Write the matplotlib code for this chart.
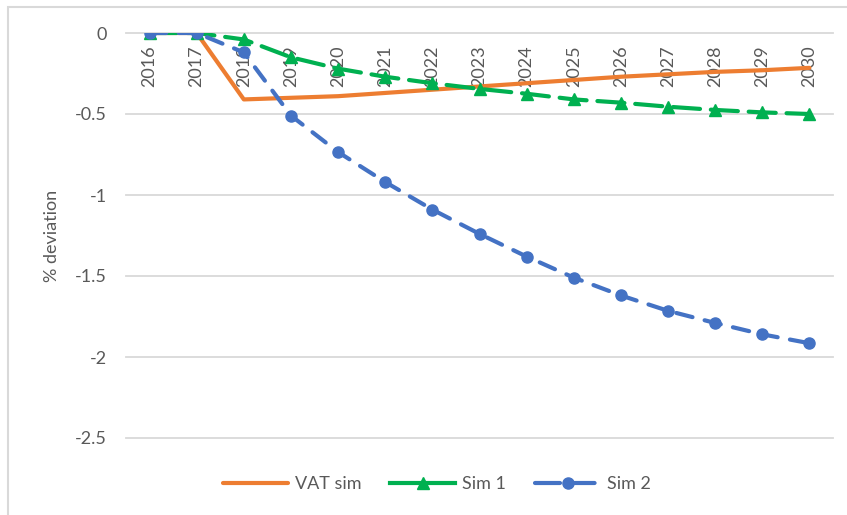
import matplotlib.pyplot as plt
from matplotlib.lines import Line2D
from matplotlib.patches import Rectangle

# data
years = [str(y) for y in range(2016, 2031)]
vat_sim = [0, 0, -0.41, -0.40, -0.39, -0.37, -0.35, -0.33, -0.31, -0.29, -0.27, -0.255, -0.24, -0.23, -0.215]
sim1 = [0, 0, -0.04, -0.15, -0.22, -0.27, -0.31, -0.345, -0.375, -0.41, -0.43, -0.455, -0.475, -0.49, -0.50]
sim2 = [0, 0, -0.12, -0.51, -0.735, -0.92, -1.09, -1.24, -1.38, -1.51, -1.62, -1.715, -1.79, -1.86, -1.915]
yticks = [0, -0.5, -1, -1.5, -2, -2.5]

plt.rcParams['font.family'] = ['Lato', 'DejaVu Sans']
txt = '#595959'
c_orange, c_green, c_blue = '#ED7D31', '#00B050', '#4472C4'
lw = 3.0
green_dash = (0, (6.5, 2.6))
blue_dash = (0, (4, 3))

fig = plt.figure(figsize=(8.47, 5.15), dpi=100)
ax = fig.add_axes([126/847, 1 - 438/515, 707/847, 405/515])

# chart frame (only top/left edges visible in the crop)
fig.patches.append(Rectangle((8/847, -0.1), 1.2, 1.1 - 7/515, transform=fig.transFigure,
                             fill=False, edgecolor='#D9D9D9', linewidth=1.5))

for v in yticks:
    ax.axhline(v, color='#D9D9D9', linewidth=1.3, clip_on=False, zorder=0)

x = list(range(len(years)))
ax.plot(x, vat_sim, color=c_orange, linewidth=lw, solid_capstyle='round', zorder=3)
ax.plot(x, sim1, color=c_green, linewidth=lw, linestyle=green_dash, dash_capstyle='round',
        marker='^', markersize=8.5, zorder=4)
ax.plot(x, sim2, color=c_blue, linewidth=lw, linestyle=blue_dash, dash_capstyle='round',
        marker='o', markersize=8, zorder=5)

ax.set_xlim(-0.5, len(years) - 0.5)
ax.set_ylim(-2.5, 0)
ax.set_xticks([])
ax.set_yticks(yticks)
ax.set_yticklabels(['0', '-0.5', '-1', '-1.5', '-2', '-2.5'])
ax.tick_params(axis='y', length=0, pad=14, labelsize=13, labelcolor=txt)
for s in ax.spines.values():
    s.set_visible(False)

# category labels sit just under the zero line
for i, yr in enumerate(years):
    ax.annotate(yr, (i, 0), xytext=(0, -9), textcoords='offset points', rotation=90,
                ha='center', va='top', fontsize=13, color=txt, zorder=2)

ax.set_ylabel('% deviation', fontsize=13, color=txt)
ax.yaxis.set_label_coords(-0.093, 0.5)

handles = [
    Line2D([], [], color=c_orange, linewidth=lw, solid_capstyle='round'),
    Line2D([], [], color=c_green, linewidth=lw, marker='^', markersize=8.5),
    Line2D([], [], color=c_blue, linewidth=lw, linestyle=(0.5, (6.5, 1.8)),
           dash_capstyle='round', marker='o', markersize=8),
]
leg = fig.legend(handles, ['VAT sim', 'Sim 1', 'Sim 2'], loc='center', ncol=3,
                 bbox_to_anchor=(437/847, 1 - 484/515), frameon=False, fontsize=13,
                 handlelength=3.6, columnspacing=1.6, handletextpad=0.4)
for t in leg.get_texts():
    t.set_color(txt)

fig.savefig('out.png', dpi=100)
